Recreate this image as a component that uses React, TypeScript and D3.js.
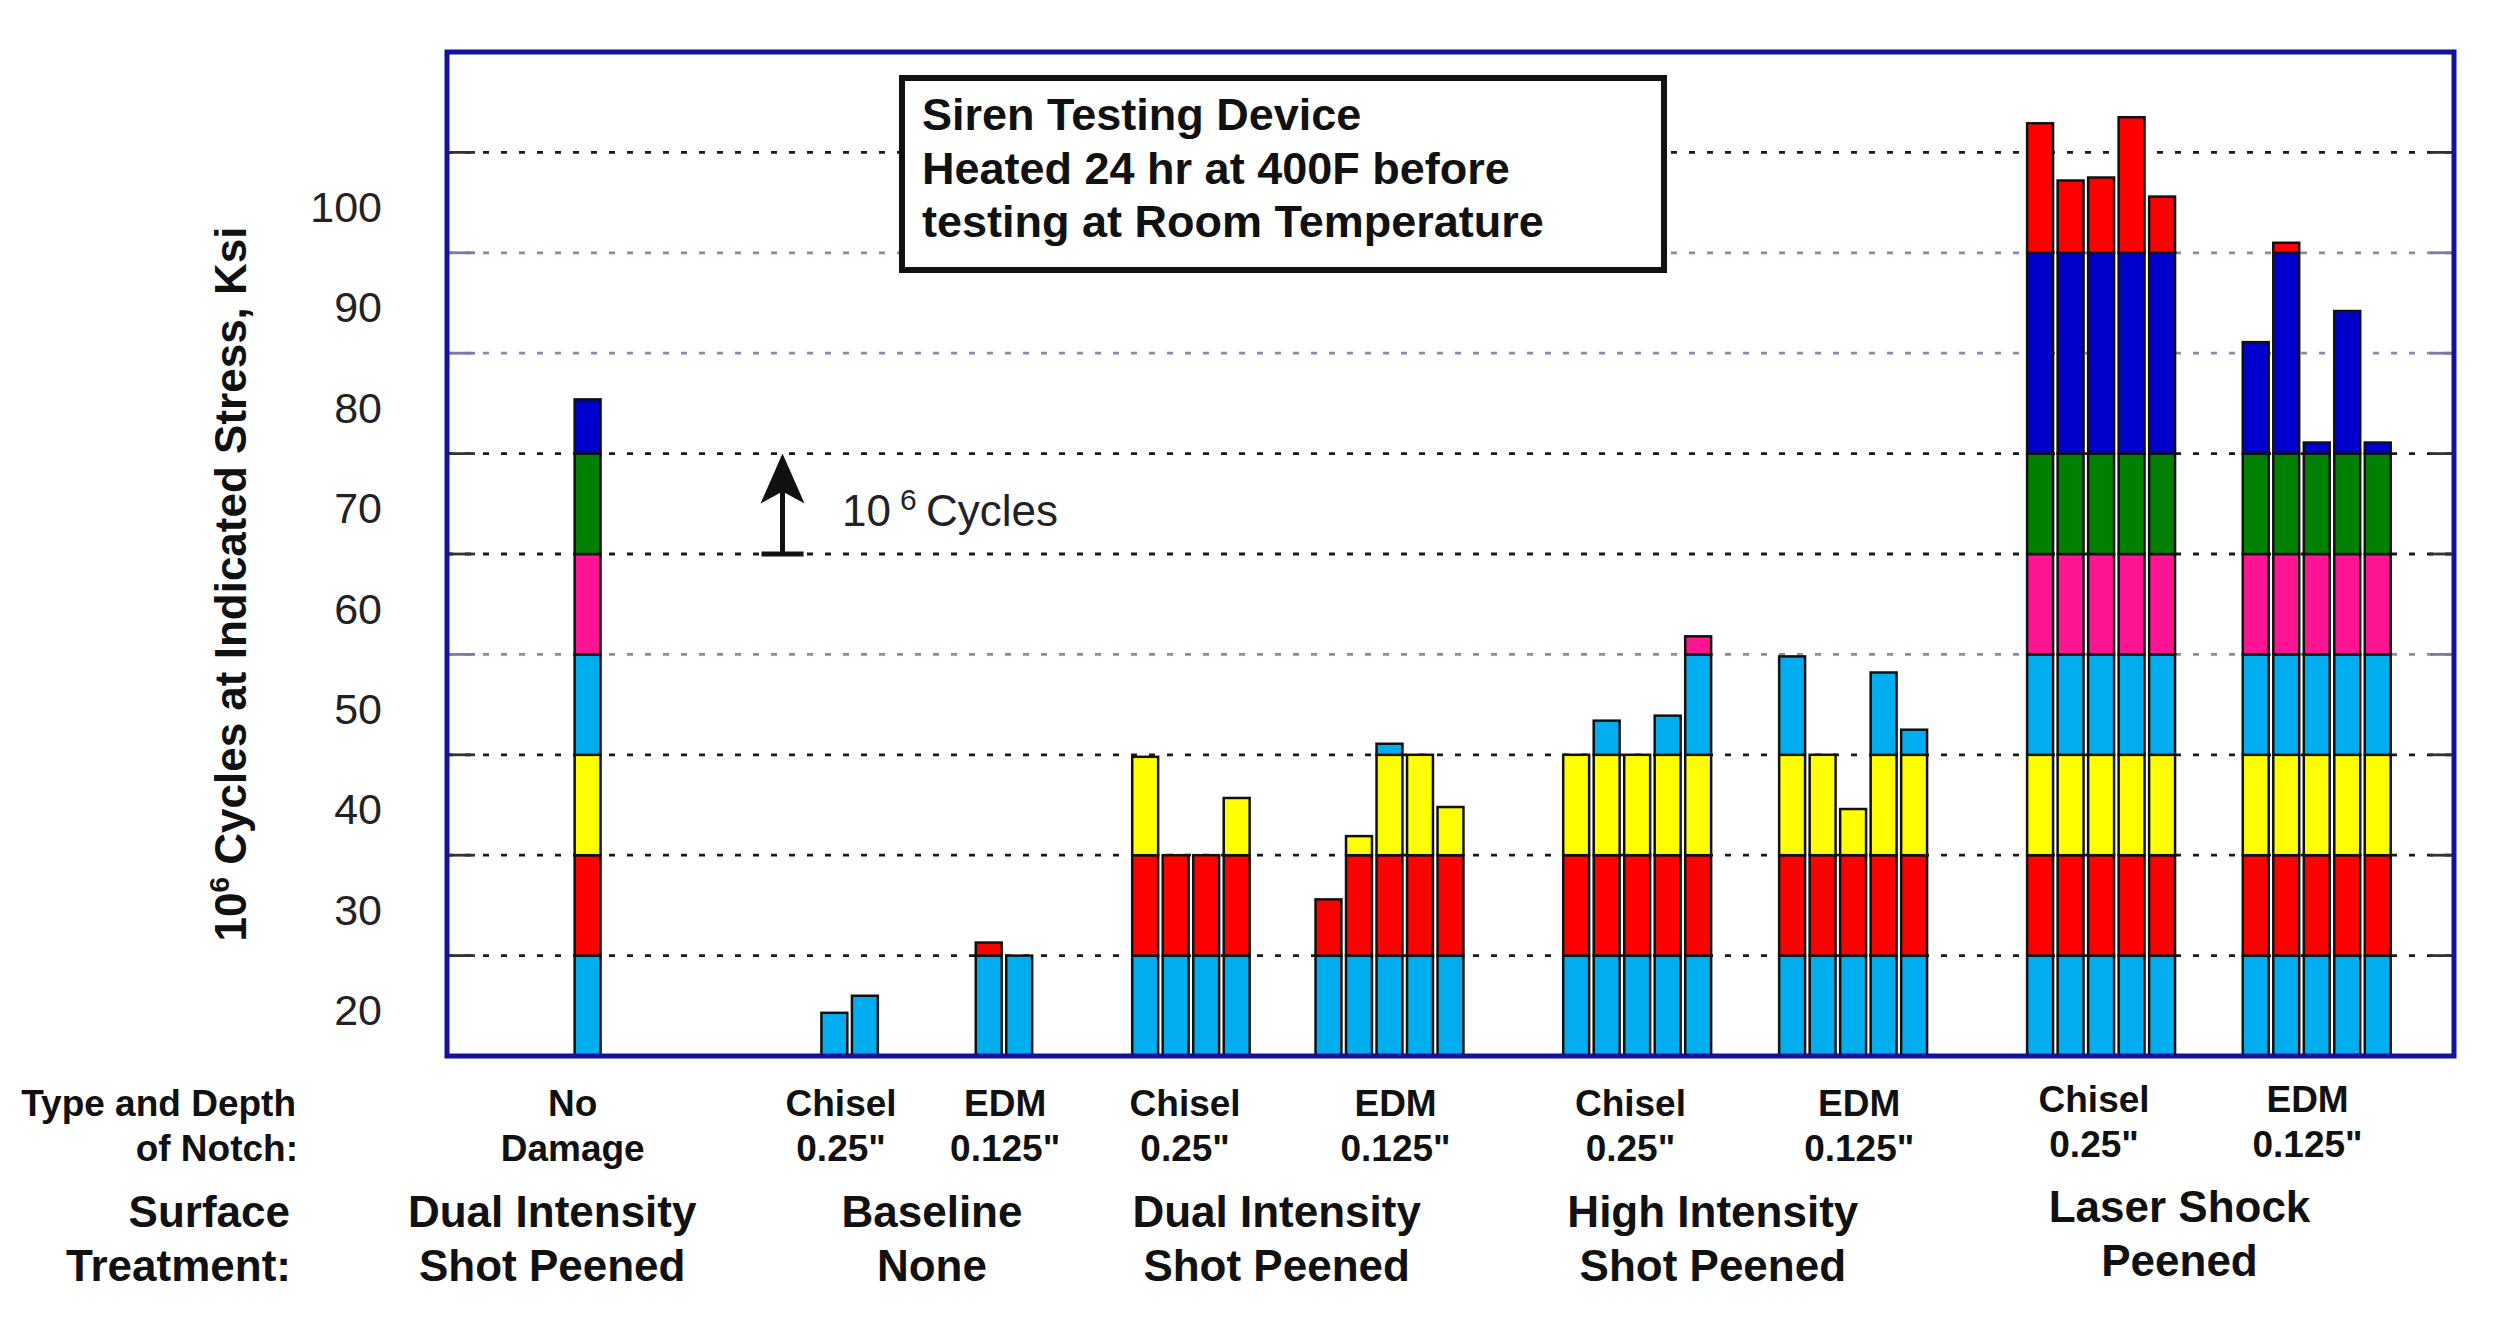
import { scaleLinear } from "d3";

const WIDTH = 2506;
const HEIGHT = 1324;
const PLOT = { left: 447, right: 2454, top: 52, bottom: 1056 };
const FONT = "'Liberation Sans', Arial, sans-serif";

// stress bands (ksi): each 10 ksi step has its own colour, 75-95 is one blue band
const bandEdges = [15, 25, 35, 45, 55, 65, 75, 95, 120];
const bandColors = ["#00AEEF", "#FF0000", "#FFFF00", "#00AEEF", "#FF1493", "#008000", "#0000CC", "#FF0000"];

const gridValues = [25, 35, 45, 55, 65, 75, 85, 95, 105];
const faintGrid = [55, 85, 95];
const tickLabels = [20, 30, 40, 50, 60, 70, 80, 90, 100];

// notch groups, x given in bar slots from the left edge of the plot
const notchTypes = ["No", "Chisel", "EDM", "Chisel", "EDM", "Chisel", "EDM", "Chisel", "EDM"];
const notchDepths = ["Damage", '0.25"', '0.125"', '0.25"', '0.125"', '0.25"', '0.125"', '0.25"', '0.125"'];
const groupCenters = [4.61, 13.2, 18.26, 24.39, 30.9, 39.02, 46.1, 54.23, 61.3];
const notchLabelPos = [4.12, 12.92, 18.3, 24.2, 31.1, 38.8, 46.3, 54.0, 61.0];

// highest stress each specimen survived 10^6 cycles at
const barTops = [
  [80.4],
  [19.3, 21.0],
  [26.3, 25.0],
  [44.8, 35.0, 35.0, 40.7],
  [30.6, 36.9, 46.1, 45.0, 39.8],
  [45.0, 48.4, 45.0, 48.9, 56.8],
  [54.8, 45.0, 39.6, 53.2, 47.5],
  [107.9, 102.2, 102.5, 108.5, 100.6],
  [86.1, 96.0, 76.1, 89.2, 76.1],
];

const treatmentTop = ["Dual Intensity", "Baseline", "Dual Intensity", "High Intensity", "Laser Shock"];
const treatmentBottom = ["Shot Peened", "None", "Shot Peened", "Shot Peened", "Peened"];
const treatmentPos = [3.45, 15.9, 27.2, 41.5, 56.8];

const titleLines = ["Siren Testing Device", "Heated 24 hr at 400F before", "testing at Room Temperature"];

const BAR_W = 0.85;

const segmentsOf = (top: number) =>
  bandEdges
    .slice(0, -1)
    .map((lo, i) => ({ lo, hi: Math.min(bandEdges[i + 1], top), color: bandColors[i] }))
    .filter((s) => s.hi > s.lo);

export default function App() {
  const x = scaleLinear().domain([0, 65.8]).range([PLOT.left, PLOT.right]);
  const y = scaleLinear().domain([15, 115]).range([PLOT.bottom, PLOT.top]);

  const bars = barTops.flatMap((tops, g) =>
    tops.map((top, i) => ({
      key: `${g}-${i}`,
      pos: groupCenters[g] + (i - (tops.length - 1) / 2),
      top,
    }))
  );

  const arrowX = x(11.0);
  const arrowTip = y(75);
  const arrowBase = y(65);
  const noteX = x(12.95);
  const noteY = y(67.8);

  return (
    <div style={{ position: "absolute", left: 0, top: 0 }}>
      <svg width={WIDTH} height={HEIGHT} style={{ display: "block", background: "#fff" }} fontFamily={FONT}>
        {/* grid */}
        {gridValues.map((v) => {
          const faint = faintGrid.includes(v);
          const col = faint ? "#8a8ab0" : "#1a1a1a";
          return (
            <g key={v}>
              <line x1={PLOT.left} x2={PLOT.right} y1={y(v)} y2={y(v)} stroke={col} strokeWidth={2.8} strokeDasharray="6 12" />
              <line x1={PLOT.left} x2={PLOT.left + 28} y1={y(v)} y2={y(v)} stroke={faint ? "#7a7aa8" : "#333"} strokeWidth={2.8} />
              <line x1={PLOT.right - 24} x2={PLOT.right} y1={y(v)} y2={y(v)} stroke={faint ? "#7a7aa8" : "#333"} strokeWidth={2.8} />
            </g>
          );
        })}

        {/* stacked bars */}
        {bars.map((b) =>
          segmentsOf(b.top).map((s) => (
            <rect
              key={`${b.key}-${s.lo}`}
              x={x(b.pos - BAR_W / 2)}
              width={x(BAR_W) - x(0)}
              y={y(s.hi)}
              height={y(s.lo) - y(s.hi)}
              fill={s.color}
              stroke="#111"
              strokeWidth={2.5}
            />
          ))
        )}

        {/* plot frame */}
        <rect
          x={PLOT.left}
          y={PLOT.top}
          width={PLOT.right - PLOT.left}
          height={PLOT.bottom - PLOT.top}
          fill="none"
          stroke="#12129a"
          strokeWidth={5}
        />

        {/* title box */}
        <rect x={902} y={78} width={762} height={192} fill="#fff" stroke="#111" strokeWidth={6} />
        {titleLines.map((t, i) => (
          <text key={t} x={922} y={130 + i * 53.5} fontSize={45} fontWeight="bold" fill="#111">
            {t}
          </text>
        ))}

        {/* 10^6 cycles arrow */}
        <line x1={arrowX} x2={arrowX} y1={arrowBase} y2={arrowTip + 30} stroke="#111" strokeWidth={5} />
        <line x1={arrowX - 21} x2={arrowX + 21} y1={arrowBase} y2={arrowBase} stroke="#111" strokeWidth={5} />
        <path
          d={`M${arrowX},${arrowTip} L${arrowX + 22},${arrowTip + 50} L${arrowX},${arrowTip + 38} L${arrowX - 22},${arrowTip + 50} Z`}
          fill="#111"
        />
        <text x={noteX} y={noteY} fontSize={44} fill="#222">10</text>
        <text x={noteX + 58} y={noteY - 16} fontSize={30} fill="#222">6</text>
        <text x={noteX + 84} y={noteY} fontSize={44} fill="#222">Cycles</text>

        {/* y tick labels, centred in each band */}
        {tickLabels.map((v) => (
          <text key={v} x={382} y={y(v) + 8} fontSize={43} textAnchor="end" dominantBaseline="middle" fill="#222">
            {v}
          </text>
        ))}

        {/* y axis title */}
        <g transform="translate(246, 584) rotate(-90)">
          <text textAnchor="middle" fontSize={44} fontWeight="bold" fill="#111">
            <tspan>10</tspan>
            <tspan dy={-17} fontSize={28}>6</tspan>
            <tspan dy={17}> Cycles at Indicated Stress, Ksi</tspan>
          </text>
        </g>

        {/* row captions */}
        <g fontWeight="bold" fill="#111" textAnchor="end">
          <text x={296} y={1116} fontSize={37}>Type and Depth</text>
          <text x={298} y={1161} fontSize={37}>of Notch:</text>
          <text x={290} y={1227} fontSize={44}>Surface</text>
          <text x={291} y={1281} fontSize={44}>Treatment:</text>
        </g>

        {/* notch labels */}
        {notchTypes.map((t, i) => {
          const lift = i >= 7 ? 4 : 0;
          return (
            <g key={i} fontWeight="bold" fill="#111" textAnchor="middle" fontSize={37}>
              <text x={x(notchLabelPos[i])} y={1116 - lift}>{t}</text>
              <text x={x(notchLabelPos[i])} y={1161 - lift}>{notchDepths[i]}</text>
            </g>
          );
        })}

        {/* treatment labels */}
        {treatmentTop.map((t, i) => {
          const lift = i === 4 ? 5 : 0;
          return (
            <g key={i} fontWeight="bold" fill="#111" textAnchor="middle" fontSize={44}>
              <text x={x(treatmentPos[i])} y={1227 - lift}>{t}</text>
              <text x={x(treatmentPos[i])} y={1281 - lift}>{treatmentBottom[i]}</text>
            </g>
          );
        })}
      </svg>
    </div>
  );
}
